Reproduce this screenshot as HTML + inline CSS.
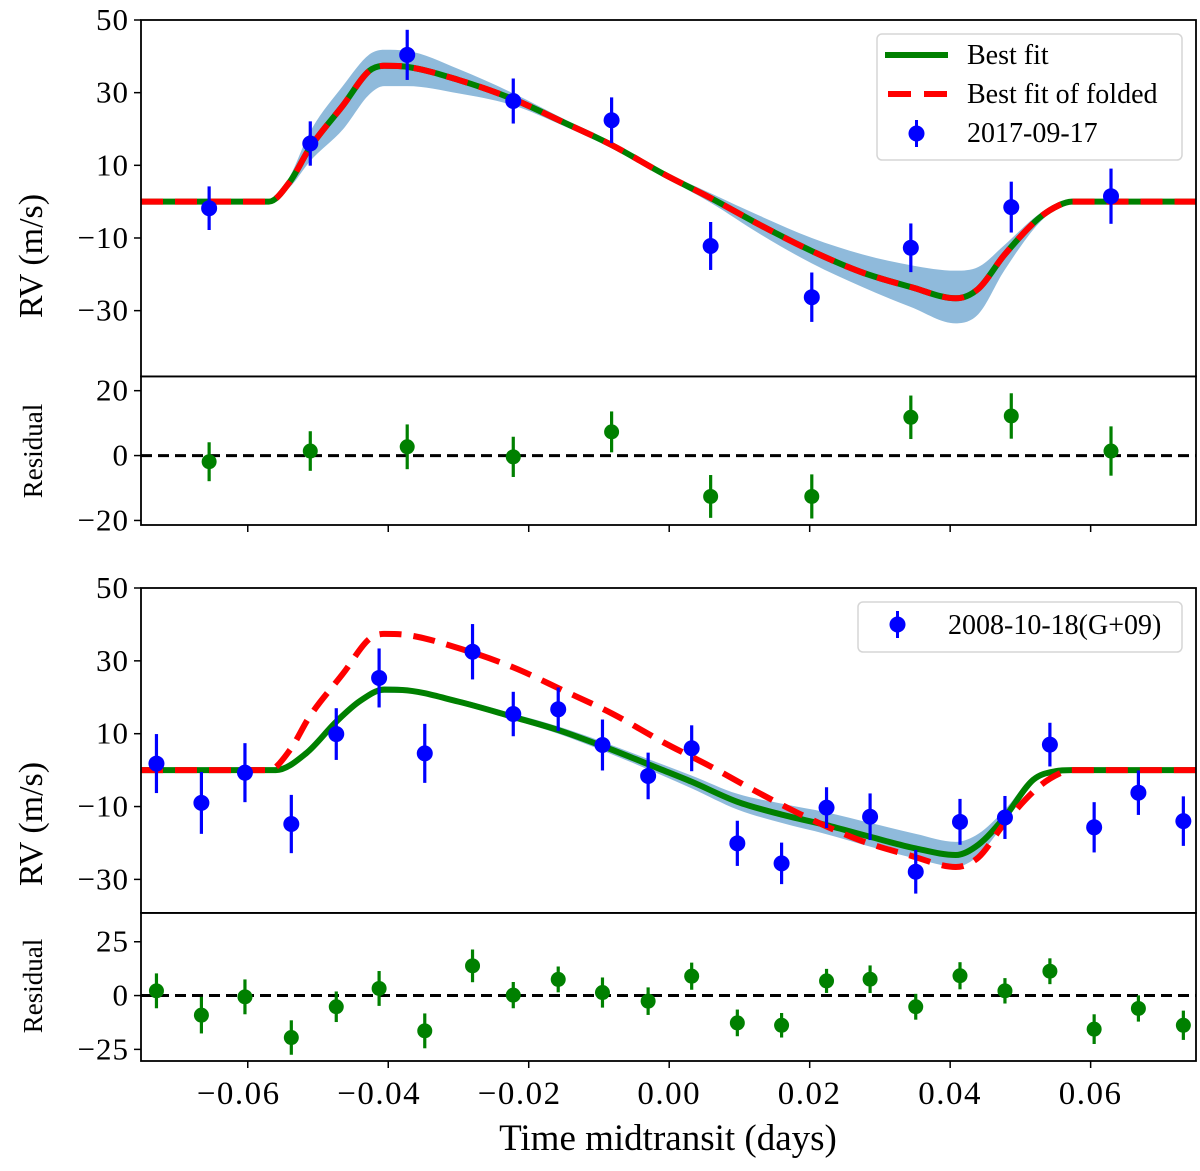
<!DOCTYPE html>
<html><head><meta charset="utf-8"><style>
html,body{margin:0;padding:0;background:#fff;}
svg{display:block;font-family:"Liberation Serif",serif;}
</style></head><body>
<svg id="fig" width="1200" height="1171" viewBox="0 0 1200 1171" xmlns="http://www.w3.org/2000/svg"></svg>
<script>
// ---------- data ----------
const xTicks = [-0.06,-0.04,-0.02,0.00,0.02,0.04,0.06];
const xTickLabels = ["\u22120.06","\u22120.04","\u22120.02","0.00","0.02","0.04","0.06"];
const p1Ticks = [50,30,10,-10,-30];
const r1Ticks = [20,0,-20];
const p2Ticks = [50,30,10,-10,-30];
const r2Ticks = [25,0,-25];

// top panel data (2017-09-17)
const d1Time = [-0.0655,-0.0511,-0.0373,-0.0222,-0.0082,0.0059,0.0203,0.0344,0.0487,0.0629];
const d1RV   = [-1.8,16.0,40.4,27.7,22.4,-12.2,-26.3,-12.7,-1.5,1.5];
const d1Err  = [6.0,6.1,6.9,6.2,6.3,6.6,6.8,6.7,7.0,7.6];
const d1Res  = [-1.9,1.4,2.7,-0.4,7.3,-12.6,-12.6,11.8,12.2,1.4];

// folded best fit (used in both panels)
const fitTime = [-0.0752,-0.0570,-0.0540,-0.0512,-0.0464,-0.0427,-0.0406,-0.0373,-0.030,-0.0222,-0.015,-0.0082,-0.0007,0.0059,0.013,0.0203,0.0275,0.0344,0.0408,0.0440,0.0477,0.0526,0.0555,0.0573,0.0752];
const fitBest = [0,0,5.5,14.7,26.6,36,37.4,37.1,33.5,28.2,21.8,15.6,7.5,1.0,-6.5,-13.6,-19.5,-23.5,-26.6,-24,-14.7,-4.6,-1,0,0];
const fitHi   = [0,0,7,19,32,40.5,41.8,41.5,36.5,29.8,22.8,16.5,8.3,2.3,-4,-10,-14.5,-17.5,-19,-18,-12,-3.5,-0.5,0,0];
const fitLo   = [0,0,4,11,20,29.5,31.8,31.8,29.8,26.5,20.8,14.7,6.7,-0.3,-9,-17,-23.5,-29,-33.5,-31,-19,-6,-1.5,0,0];

// bottom panel data (2008-10-18)
const d2Time = [-0.0730,-0.0666,-0.0604,-0.0538,-0.0474,-0.0413,-0.0348,-0.0280,-0.0222,-0.0158,-0.0095,-0.0030,0.0032,0.0097,0.0160,0.0224,0.0286,0.0351,0.0414,0.0478,0.0542,0.0605,0.0668,0.0732];
const d2RV   = [1.8,-9.0,-0.7,-14.8,9.9,25.3,4.6,32.5,15.4,16.7,6.9,-1.6,6.0,-20.1,-25.6,-10.3,-12.8,-27.9,-14.2,-13.0,7.0,-15.7,-6.2,-14.0];
const d2Err  = [8.1,8.5,8.1,8.0,7.1,8.1,8.1,7.6,6.1,6.0,7.0,6.4,6.3,6.2,5.7,5.6,6.4,6.0,6.3,5.9,6.0,6.9,6.1,6.8];
const d2Res  = [2.2,-9.1,-0.6,-19.5,-5.2,3.3,-16.4,13.8,0.2,7.5,1.4,-2.6,9.0,-12.7,-13.8,6.8,7.6,-5.2,9.2,2.2,11.3,-15.6,-6.0,-13.8];

const fit2Time = [-0.0752,-0.0560,-0.0517,-0.0474,-0.0440,-0.0406,-0.0380,-0.030,-0.0222,-0.0158,-0.0095,-0.0013,0.0032,0.0097,0.0160,0.0224,0.0286,0.0351,0.0408,0.0440,0.0478,0.0518,0.0550,0.0573,0.0752];
const fit2Best = [0,0,4.6,13.3,19,22.1,22,18.8,14.6,11,6.6,0.3,-3.2,-8.7,-12.2,-15.1,-18.3,-21.5,-23.3,-20.5,-12.8,-2.7,-0.3,0,0];
const fit2Hi   = [0,0,5,14,19.8,23,22.8,19.6,15.5,12,7.8,1.8,-1.5,-6.5,-9.2,-11.6,-14.5,-17.5,-19.7,-17.5,-10.8,-1.8,-0.1,0,0];
const fit2Lo   = [0,0,4.2,12.6,18.2,21.2,21.2,18,13.8,10,5.4,-1.2,-5,-10.8,-14.5,-17.6,-21,-24.3,-26.5,-23.5,-14.3,-3.5,-0.5,0,0];

// ---------- layout ----------
const NS = "http://www.w3.org/2000/svg";
const svg = document.getElementById('fig');
const X0 = 141, X1 = 1196;
const xMin = -0.0752, xMax = 0.0750;
function sx(t){ return X0 + (t - xMin) / (xMax - xMin) * (X1 - X0); }
function mkY(top, bot, vTop, vBot){ return v => top + (vTop - v) / (vTop - vBot) * (bot - top); }
const P1 = {top:20, bot:376.4, y: mkY(20,376.4,50,-48.1)};
const R1 = {top:376.4, bot:525, y: mkY(376.4,525,24.4,-21.4)};
const P2 = {top:588, bot:912.9, y: mkY(588,912.9,50,-39.2)};
const R2 = {top:912.9, bot:1061, y: mkY(912.9,1061,38.4,-30.4)};

function el(tag, attrs, parent){
  const e = document.createElementNS(NS, tag);
  for (const k in attrs) e.setAttribute(k, attrs[k]);
  (parent || svg).appendChild(e);
  return e;
}
function clip(id, pan){
  const cp = el('clipPath', {id:id});
  el('rect', {x:X0, y:pan.top, width:X1-X0, height:pan.bot-pan.top}, cp);
}
clip('c1', P1); clip('c2', R1); clip('c3', P2); clip('c4', R2);

// monotone cubic (Fritsch-Carlson) path in pixel space; x strictly increasing
function monoSegs(p){
  const n = p.length, d = [], m = [];
  for (let i = 0; i < n-1; i++) d.push((p[i+1][1]-p[i][1])/(p[i+1][0]-p[i][0]));
  m[0] = d[0]; m[n-1] = d[n-2];
  for (let i = 1; i < n-1; i++) m[i] = (d[i-1]*d[i] <= 0) ? 0 : (d[i-1]+d[i])/2;
  for (let i = 0; i < n-1; i++){
    if (d[i] === 0){ m[i] = 0; m[i+1] = 0; continue; }
    const a = m[i]/d[i], b = m[i+1]/d[i], s = a*a+b*b;
    if (s > 9){ const t = 3/Math.sqrt(s); m[i] = t*a*d[i]; m[i+1] = t*b*d[i]; }
  }
  return {d:d, m:m};
}
function monoPath(p, reverse){
  const s = monoSegs(p);
  const f = v => v.toFixed(2);
  if (!reverse){
    let out = 'M'+f(p[0][0])+' '+f(p[0][1]);
    for (let i = 0; i < p.length-1; i++){
      const h = (p[i+1][0]-p[i][0])/3;
      out += ' C'+f(p[i][0]+h)+' '+f(p[i][1]+s.m[i]*h)+' '+f(p[i+1][0]-h)+' '+f(p[i+1][1]-s.m[i+1]*h)+' '+f(p[i+1][0])+' '+f(p[i+1][1]);
    }
    return out;
  } else {
    const n = p.length;
    let out = ' L'+f(p[n-1][0])+' '+f(p[n-1][1]);
    for (let i = n-1; i > 0; i--){
      const h = (p[i][0]-p[i-1][0])/3;
      out += ' C'+f(p[i][0]-h)+' '+f(p[i][1]-s.m[i]*h)+' '+f(p[i-1][0]+h)+' '+f(p[i-1][1]+s.m[i-1]*h)+' '+f(p[i-1][0])+' '+f(p[i-1][1]);
    }
    return out;
  }
}
function pts(ts, vs, y){ return ts.map((t,i)=>[sx(t), y(vs[i])]); }
function band(ts, hi, lo, y, clipId, name){
  const d = monoPath(pts(ts, hi, y), false) + monoPath(pts(ts, lo, y), true) + ' Z';
  const p = el('path', {d:d, fill:'#8fbadb', stroke:'none', 'clip-path':'url(#'+clipId+')'});
  
  
}
function line(ts, vs, y, color, dash, clipId, name){
  const a = {d:monoPath(pts(ts, vs, y), false), fill:'none', stroke:color, 'stroke-width':6, 'stroke-linejoin':'round', 'clip-path':'url(#'+clipId+')'};
  if (dash) a['stroke-dasharray'] = dash;
  const p = el('path', a);
  
  
}
function points(ts, vs, errs, y, color, r, name){
  const g = el('g', {});
  
  
  ts.forEach((t,i)=>{
    const cx = sx(t);
    const ln = el('line', {x1:cx, x2:cx, y1:y(vs[i]+errs[i]), y2:y(vs[i]-errs[i]), stroke:color, 'stroke-width':3.2}, g);
    
    
    const c = el('circle', {cx:cx, cy:y(vs[i]), r:r, fill:color}, g);
    
    
  });
}
function zeroLine(pan, name){
  const l = el('line', {x1:X0, x2:X1, y1:pan.y(0), y2:pan.y(0), stroke:'#000', 'stroke-width':3, 'stroke-dasharray':'11,6'});
  
  
}
function yAxis(pan, ticks, name){
  const g = el('g', {});
  
  
  ticks.forEach(v=>{
    const yy = pan.y(v);
    el('line', {x1:X0-7, x2:X0, y1:yy, y2:yy, stroke:'#000', 'stroke-width':1.5}, g);
    const tx = el('text', {x:X0-12, y:yy+10, 'text-anchor':'end', 'font-size':31, fill:'#000', 'letter-spacing':1}, g);
    tx.textContent = v < 0 ? '\u2212' + Math.abs(v) : String(v);
    
    
  });
}
function frame(pan, name, bottomTicks){
  const r = el('rect', {x:X0, y:pan.top, width:X1-X0, height:pan.bot-pan.top, fill:'none', stroke:'#000', 'stroke-width':1.8});
  
  
  if (bottomTicks) xTicks.forEach(t=>{
    el('line', {x1:sx(t), x2:sx(t), y1:pan.bot, y2:pan.bot+7, stroke:'#000', 'stroke-width':1.5});
  });
}
function yTitle(text, cx, cy, size, name){
  const t = el('text', {x:cx, y:cy, 'text-anchor':'middle', 'font-size':size, transform:'rotate(-90 '+cx+' '+cy+')', fill:'#000'});
  t.textContent = text;
  
  
}

// ---------- top panel ----------
band(fitTime, fitHi, fitLo, P1.y, 'c1', 'uncertainty-band-top');
line(fitTime, fitBest, P1.y, '#008000', null, 'c1', 'best-fit-line-top');
line(fitTime, fitBest, P1.y, '#ff0000', '22,12', 'c1', 'folded-fit-line-top');
points(d1Time, d1RV, d1Err, P1.y, '#0000ff', 8, 'rv-points-2017');
frame(P1, 'top-rv-panel', false);
yAxis(P1, p1Ticks, 'top-rv-y-axis');
yTitle('RV (m/s)', 42, 256, 34, 'top-y-axis-title');

zeroLine(R1, 'top-residual-zero-line');
points(d1Time, d1Res, d1Err, R1.y, '#008000', 7.5, 'residual-points-2017');
frame(R1, 'top-residual-panel', true);
yAxis(R1, r1Ticks, 'top-residual-y-axis');
yTitle('Residual', 42, 451, 27, 'top-residual-title');

// ---------- bottom panel ----------
band(fit2Time, fit2Hi, fit2Lo, P2.y, 'c3', 'uncertainty-band-bottom');
line(fit2Time, fit2Best, P2.y, '#008000', null, 'c3', 'best-fit-line-bottom');
line(fitTime, fitBest, P2.y, '#ff0000', '22,12', 'c3', 'folded-fit-line-bottom');
points(d2Time, d2RV, d2Err, P2.y, '#0000ff', 8, 'rv-points-2008');
frame(P2, 'bottom-rv-panel', false);
yAxis(P2, p2Ticks, 'bottom-rv-y-axis');
yTitle('RV (m/s)', 42, 824, 34, 'bottom-y-axis-title');

zeroLine(R2, 'bottom-residual-zero-line');
points(d2Time, d2Res, d2Err, R2.y, '#008000', 7.5, 'residual-points-2008');
frame(R2, 'bottom-residual-panel', true);
yAxis(R2, r2Ticks, 'bottom-residual-y-axis');
yTitle('Residual', 42, 986, 27, 'bottom-residual-title');

// x tick labels
xTicks.forEach((t,i)=>{
  const tx = el('text', {x:sx(t) - (t<0?9:0), y:1104, 'text-anchor':'middle', 'font-size':33, 'letter-spacing':1.5, fill:'#000'});
  tx.textContent = xTickLabels[i];
  
  
});
const xt = el('text', {x:668, y:1150, 'text-anchor':'middle', 'font-size':37, fill:'#000'});
xt.textContent = 'Time midtransit (days)';



// ---------- legends ----------
const lg1 = el('g', {});


el('rect', {x:877, y:34, width:305, height:126, rx:5, fill:'#fff', 'fill-opacity':0.85, stroke:'#d6d6d6', 'stroke-width':1.5}, lg1);
el('line', {x1:885, x2:948, y1:55, y2:55, stroke:'#008000', 'stroke-width':6}, lg1);
el('line', {x1:888, x2:948, y1:94, y2:94, stroke:'#ff0000', 'stroke-width':6, 'stroke-dasharray':'23,13'}, lg1);
el('line', {x1:916.5, x2:916.5, y1:120, y2:147, stroke:'#0000ff', 'stroke-width':3}, lg1);
el('circle', {cx:916.5, cy:133.5, r:8, fill:'#0000ff'}, lg1);
[['Best fit',64,'legend-best-fit'],['Best fit of folded',103,'legend-folded-fit'],['2017-09-17',142,'legend-2017-data']].forEach(a=>{
  const t = el('text', {x:967, y:a[1], 'font-size':28, fill:'#000'}, lg1);
  t.textContent = a[0];
  
  
});

const lg2 = el('g', {});


el('rect', {x:858, y:602, width:324, height:50, rx:5, fill:'#fff', 'fill-opacity':0.85, stroke:'#d6d6d6', 'stroke-width':1.5}, lg2);
el('line', {x1:897.5, x2:897.5, y1:611, y2:638, stroke:'#0000ff', 'stroke-width':3}, lg2);
el('circle', {cx:897.5, cy:624.5, r:8, fill:'#0000ff'}, lg2);
const t2 = el('text', {x:948, y:634, 'font-size':28, fill:'#000'}, lg2);
t2.textContent = '2008-10-18(G+09)';


</script>
</body></html>
